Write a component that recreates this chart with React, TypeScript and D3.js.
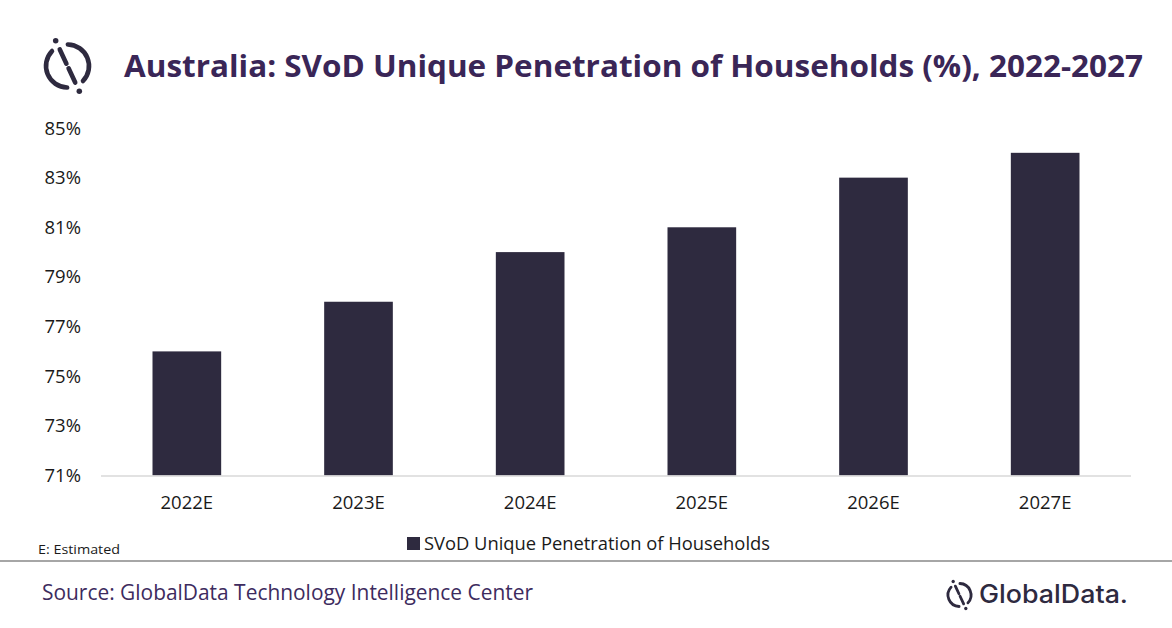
import * as d3 from 'd3'
import { useEffect } from 'react'

const categories = ['2022E', '2023E', '2024E', '2025E', '2026E', '2027E']
const penetration = [76, 78, 80, 81, 83, 84]
const yTicks = [71, 73, 75, 77, 79, 81, 83, 85]

const W = 1172
const H = 628
const BAR = '#2e2a3f'
const TITLE = '#3a2657'
const FONT = '"Open Sans", "Noto Sans", sans-serif'

function Logo({ cx, cy, r, sw }: { cx: number; cy: number; r: number; sw: number }): JSX.Element {
  const deg = Math.PI / 180
  const arc = d3.arc<{ s: number; e: number }>()
    .innerRadius(r - sw / 2)
    .outerRadius(r + sw / 2)
    .startAngle((d) => d.s * deg)
    .endAngle((d) => d.e * deg)
    .cornerRadius(sw / 2)
  // diagonal direction through the two dots
  const a = -25 * deg
  const ux = Math.sin(a)
  const uy = -Math.cos(a)
  const pt = (k: number): [number, number] => [cx + ux * r * k, cy + uy * r * k]
  const seg = (k0: number, k1: number) => {
    const [x1, y1] = pt(k0)
    const [x2, y2] = pt(k1)
    return { x1, y1, x2, y2 }
  }
  const up = seg(0.85, 0.12)
  const lo = seg(-0.12, -0.85)
  const d1 = pt(1.3)
  const d2 = pt(-1.3)
  return (
    <g>
      <path transform={`translate(${cx},${cy})`} d={arc({ s: -5, e: 140 }) ?? ''} fill={BAR} />
      <path transform={`translate(${cx},${cy})`} d={arc({ s: 175, e: 320 }) ?? ''} fill={BAR} />
      <line {...up} stroke={BAR} strokeWidth={sw} strokeLinecap="round" />
      <line {...lo} stroke={BAR} strokeWidth={sw} strokeLinecap="round" />
      <circle cx={d1[0]} cy={d1[1]} r={sw * 0.6} fill={BAR} />
      <circle cx={d2[0]} cy={d2[1]} r={sw * 0.6} fill={BAR} />
    </g>
  )
}

export default function App(): JSX.Element {
  useEffect(() => {
    document.body.style.margin = '0'
  }, [])

  const x = d3.scaleBand<string>().domain(categories).range([101, 1131]).paddingInner(0.6).paddingOuter(0.3)
  const y = d3.scaleLinear().domain([71, 85]).range([475.5, 128])

  return (
    <svg width={W} height={H} style={{ display: 'block', background: '#fff' }} fontFamily={FONT}>
      <rect width={W} height={H} fill="#fff" />
      <Logo cx={67.5} cy={66} r={21.5} sw={4.6} />
      <text x={124} y={77} fontSize={31} fontWeight={700} fill={TITLE} textLength={1019} lengthAdjust="spacingAndGlyphs">
        Australia: SVoD Unique Penetration of Households (%), 2022-2027
      </text>

      {yTicks.map((t) => (
        <text key={t} x={81} y={y(t) + 6.5} fontSize={18.5} fill="#1a1a1a" textAnchor="end">
          {t}%
        </text>
      ))}

      {categories.map((c, i) => (
        <rect key={c} x={x(c)} y={y(penetration[i])} width={x.bandwidth()} height={y(71) - y(penetration[i])} fill={BAR} />
      ))}

      <line x1={101} x2={1131} y1={y(71) + 0.5} y2={y(71) + 0.5} stroke="#d9d9d9" strokeWidth={1.5} />

      {categories.map((c) => (
        <text key={c} x={(x(c) ?? 0) + x.bandwidth() / 2} y={509} fontSize={18.5} fill="#1a1a1a" textAnchor="middle">
          {c}
        </text>
      ))}

      <rect x={407} y={537} width={13} height={13} fill={BAR} />
      <text x={424} y={550} fontSize={18.5} fill="#1a1a1a" textLength={346} lengthAdjust="spacingAndGlyphs">
        SVoD Unique Penetration of Households
      </text>

      <text x={38} y={554} fontSize={13} fill="#1a1a1a" textLength={82} lengthAdjust="spacingAndGlyphs">
        E: Estimated
      </text>

      <line x1={0} x2={W} y1={561} y2={561} stroke="#a6a6a6" strokeWidth={2} />

      <text x={42} y={600} fontSize={21} fill="#3d2b5e" textLength={491} lengthAdjust="spacingAndGlyphs">
        Source: GlobalData Technology Intelligence Center
      </text>

      <Logo cx={959.5} cy={595} r={11.5} sw={2.8} />
      <text x={979} y={603} fontSize={25} fontWeight={500} fill="#2e2a3f" fontFamily="Inter, sans-serif" textLength={149} lengthAdjust="spacingAndGlyphs">
        GlobalData.
      </text>
    </svg>
  )
}
